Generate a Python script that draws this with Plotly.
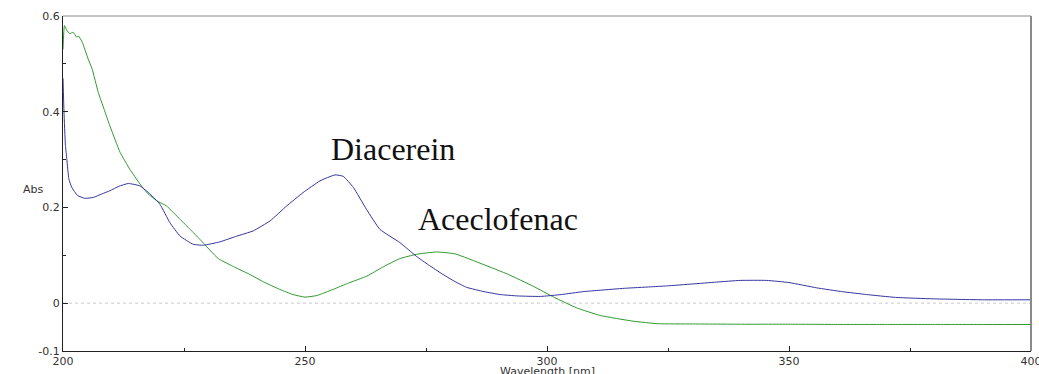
import plotly.graph_objects as go

# Diacerein (blue) spectrum
dia_wl = [200, 200.2, 200.5, 200.8, 201.2, 201.8, 203, 204.5, 206.3, 208, 209.7, 211.5, 213.5, 215.9,
          218, 220, 222.1, 224.2, 226.9, 229, 232.4, 235.9, 239.3, 242.8, 246.2, 249.6, 253.1, 256.2,
          257.9, 260, 262.7, 265.5, 269.6, 273, 275.5, 278.5, 281, 283.4, 287, 290.3, 294, 298.6, 303,
          307.4, 311, 316, 321.3, 324.7, 330, 335, 339.9, 345.4, 350, 355.7, 361, 366, 372, 379.8, 390, 400]
dia_abs = [0.47, 0.40, 0.33, 0.30, 0.26, 0.242, 0.225, 0.219, 0.221, 0.228, 0.235, 0.244, 0.25, 0.245,
           0.228, 0.207, 0.168, 0.140, 0.123, 0.121, 0.128, 0.140, 0.151, 0.172, 0.203, 0.231, 0.2555, 0.268,
           0.265, 0.2417, 0.196, 0.154, 0.1265, 0.098, 0.08, 0.06, 0.045, 0.033, 0.024, 0.018, 0.015, 0.014, 0.018,
           0.024, 0.027, 0.031, 0.034, 0.036, 0.04, 0.044, 0.0475, 0.0475, 0.043, 0.032, 0.024, 0.018, 0.012,
           0.009, 0.007, 0.007]

# Aceclofenac (green) spectrum
ace_wl = [200, 200.3, 200.8, 201.4, 202.1, 202.8, 203.2, 204, 205.2, 206, 207.3, 208.5, 209.7, 211.8,
          213.8, 215.9, 217.5, 219.4, 221.4, 224.2, 226.3, 228.3, 232.1, 235.5, 238.6, 241.5, 244.8, 247.5,
          250, 252.5, 255.8, 259, 262.8, 266, 269.6, 273, 277.2, 281, 286.8, 292, 297.1, 301.5, 306.1, 311,
          317.8, 322.9, 330, 340, 350, 360, 370, 380, 390, 400]
ace_abs = [0.53, 0.58, 0.57, 0.563, 0.566, 0.556, 0.558, 0.545, 0.51, 0.49, 0.44, 0.405, 0.37, 0.315,
           0.28, 0.249, 0.229, 0.2137, 0.203, 0.175, 0.154, 0.133, 0.093, 0.075, 0.06, 0.044, 0.0287, 0.018,
           0.0126, 0.016, 0.0287, 0.042, 0.0566, 0.075, 0.093, 0.102, 0.107, 0.103, 0.081, 0.06, 0.0356, 0.012,
           -0.0097, -0.0258, -0.0377, -0.043, -0.0435, -0.044, -0.044, -0.0445, -0.0445, -0.0445, -0.0446, -0.0446]

x_ticks = [200, 250, 300, 350, 400]
x_minor = [225, 275, 325, 375]
y_ticks = [-0.1, 0, 0.2, 0.4, 0.6]
y_tick_text = ["-0.1", "0", "0.2", "0.4", "0.6"]
y_minor = [0.1, 0.3, 0.5]

fig = go.Figure()
fig.add_trace(go.Scatter(x=ace_wl, y=ace_abs, mode="lines",
                         line=dict(color="#2f9a2f", width=1, shape="spline", smoothing=0.4),
                         name="Aceclofenac", showlegend=False))
fig.add_trace(go.Scatter(x=dia_wl, y=dia_abs, mode="lines",
                         line=dict(color="#3535a0", width=1, shape="spline", smoothing=0.4),
                         name="Diacerein", showlegend=False))

# dotted zero line
fig.add_shape(type="line", xref="x", yref="y", x0=200, x1=400, y0=0, y1=0,
              line=dict(color="#c8c8c8", width=1, dash="dot"), layer="below")
# top and right frame lines (gray)
fig.add_shape(type="line", xref="paper", yref="paper", x0=0, x1=1, y0=1, y1=1,
              line=dict(color="#8a8a8a", width=1))
fig.add_shape(type="line", xref="paper", yref="paper", x0=1, x1=1, y0=0, y1=1,
              line=dict(color="#8a8a8a", width=2))

PW, PH, L, T = 968, 335, 63, 16


def px(xp):
    return (xp - L) / PW


def py(yp):
    return (T + PH - yp) / PH


tick_font = dict(family="DejaVu Sans", size=11, color="#333")

fig.add_annotation(x=px(328.5), y=py(149), xref="paper", yref="paper", text="Diacerein", showarrow=False,
                   font=dict(family="Liberation Serif", size=32, color="#111"))
fig.add_annotation(x=px(497.5), y=py(219), xref="paper", yref="paper", text="Aceclofenac", showarrow=False,
                   font=dict(family="Liberation Serif", size=32, color="#111"))
fig.add_annotation(x=px(21), y=py(189), xref="paper", yref="paper", text="Abs", showarrow=False,
                   font=dict(family="DejaVu Sans", size=11, color="#333"))
fig.add_annotation(x=0.5, y=py(371.5), xref="paper", yref="paper", text="Wavelength [nm]", showarrow=False,
                   yanchor="middle", font=tick_font)

fig.update_layout(
    width=1039, height=374,
    margin=dict(l=L, r=8, t=T, b=23, autoexpand=False),
    paper_bgcolor="white", plot_bgcolor="white",
    xaxis=dict(range=[200, 400], tickmode="array", tickvals=x_ticks, ticks="inside", ticklen=5,
               tickcolor="#222", showgrid=False, zeroline=False, showline=True, linecolor="#222",
               linewidth=1, tickfont=tick_font, automargin=False, ticklabeloverflow="allow",
               minor=dict(tickmode="array", tickvals=x_minor, ticks="inside", ticklen=3, tickcolor="#222")),
    yaxis=dict(range=[-0.1, 0.6], tickmode="array", tickvals=y_ticks, ticktext=y_tick_text,
               ticks="inside", ticklen=5, tickcolor="#222", showgrid=False, zeroline=False,
               showline=True, linecolor="#222", linewidth=1, tickfont=tick_font, automargin=False,
               minor=dict(tickmode="array", tickvals=y_minor, ticks="inside", ticklen=3, tickcolor="#222")),
)

fig.write_html("out.html", config={"displayModeBar": False},
               post_script="document.body.style.margin='0px';")
